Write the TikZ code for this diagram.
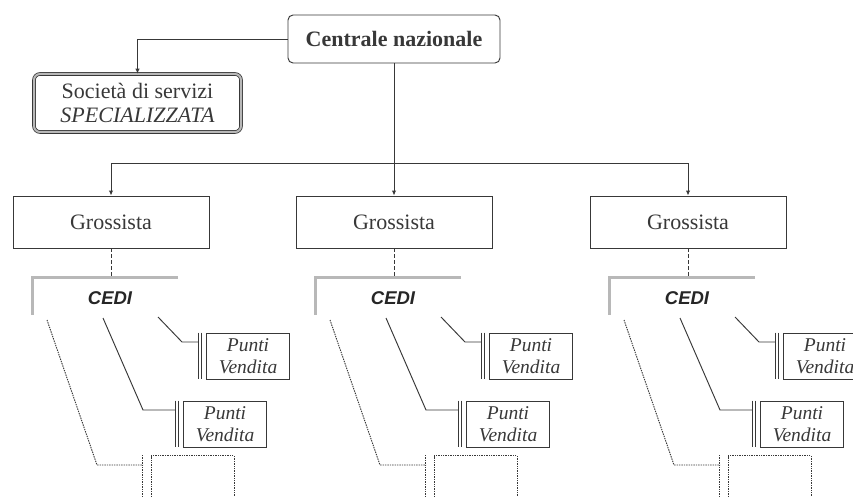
\documentclass[tikz,border=0pt]{standalone}
\usepackage{fontspec}
\setmainfont{Liberation Serif}
\newfontfamily\cedifont{Liberation Sans}
\usetikzlibrary{arrows.meta}
\definecolor{ink}{gray}{0.22}
\definecolor{shade}{gray}{0.72}

\begin{document}
\begin{tikzpicture}[x=1pt,y=-1pt,
  line/.style={draw=ink, line width=0.95pt},
  arr/.style={line, -{Latex[length=5pt,width=4.5pt]}},
  dotline/.style={draw=ink, line width=0.95pt, dash pattern=on 1.4pt off 1pt},
  dashline/.style={draw=ink, line width=0.95pt, dash pattern=on 4pt off 2pt},
  plainbox/.style={draw=ink, line width=0.95pt, inner sep=0pt, text=ink, align=center},
  topbox/.style={plainbox, rounded corners=5pt, minimum width=212pt, minimum height=48pt,
    font=\fontsize{22}{24}\selectfont\bfseries},
  servbox/.style={plainbox, rounded corners=6pt, double=shade, double distance=2pt,
    line width=0.8pt, minimum width=207pt, minimum height=58pt,
    font=\fontsize{22}{24}\selectfont},
  grobox/.style={plainbox, minimum width=196pt, minimum height=52pt,
    font=\fontsize{22}{24}\selectfont},
  pvbox/.style={plainbox, minimum width=83pt, minimum height=46pt,
    font=\fontsize{19.5}{21.5}\selectfont\itshape},
  dotbox/.style={dotline, minimum width=83pt, minimum height=70pt, inner sep=0pt},
  cedi/.style={inner sep=0pt, text=black!85, font=\fontsize{18.5}{20}\cedifont\bfseries\itshape},
  bracket/.style={draw=shade, line width=3pt},
]
\useasboundingbox (0,0) rectangle (853,497);
\clip (0,0) rectangle (853,497);

% top of the hierarchy
\node[topbox] (cn) at (394,39) {Centrale nazionale};
\node[servbox] (soc) at (137.5,103) {Società di servizi\\\textit{SPECIALIZZATA}};
\draw[arr] (cn.west) -| (soc.north);

% distribution bus to the wholesalers
\coordinate (bus) at (394,163);
\draw[line] (cn.south) -- (bus);

\foreach \i/\s in {1/0, 2/283, 3/577} {
  \begin{scope}[shift={(\s,0)}]
    \node[grobox] (gro\i) at (111,222) {Grossista};

    % distribution centre bracket
    \coordinate (brk\i) at (111,277);
    \draw[bracket] (178,277) -- (32,277) -- (32,315);
    \node[cedi] (ced\i) at (110,298) {CEDI};

    % points of sale
    \node[pvbox] (pvu\i) at (248,356) {Punti\\Vendita};
    \node[pvbox] (pvl\i) at (225,424) {Punti\\Vendita};
    \node[dotbox] (dot\i) at (192.5,490.5) {};

    \coordinate (su\i) at (158,317);
    \coordinate (ku\i) at (182,342);
    \coordinate (eu\i) at (198.5,342);
    \coordinate (sl\i) at (103,318);
    \coordinate (kl\i) at (143,410);
    \coordinate (el\i) at (175,410);
    \coordinate (sd\i) at (47,320);
    \coordinate (kd\i) at (97,465);
    \coordinate (ed\i) at (143,465);

    \draw[line] (su\i) -- (ku\i) -- (eu\i);
    \draw[line] ([xshift=-8pt]pvu\i.north west) -- ([xshift=-8pt]pvu\i.south west);
    \draw[line] ([xshift=-5pt]pvu\i.north west) -- ([xshift=-5pt]pvu\i.south west);

    \draw[line] (sl\i) -- (kl\i) -- (el\i);
    \draw[line] ([xshift=-8pt]pvl\i.north west) -- ([xshift=-8pt]pvl\i.south west);
    \draw[line] ([xshift=-5pt]pvl\i.north west) -- ([xshift=-5pt]pvl\i.south west);

    \draw[dotline] (sd\i) -- (kd\i) -- (ed\i);
    \draw[dotline] ([xshift=-8pt]dot\i.north west) -- ([xshift=-8pt]dot\i.south west);
  \end{scope}
  \draw[arr] (bus) -| (gro\i.north);
  \draw[dashline] (gro\i.south) -- (brk\i);
}
\end{tikzpicture}
\end{document}
